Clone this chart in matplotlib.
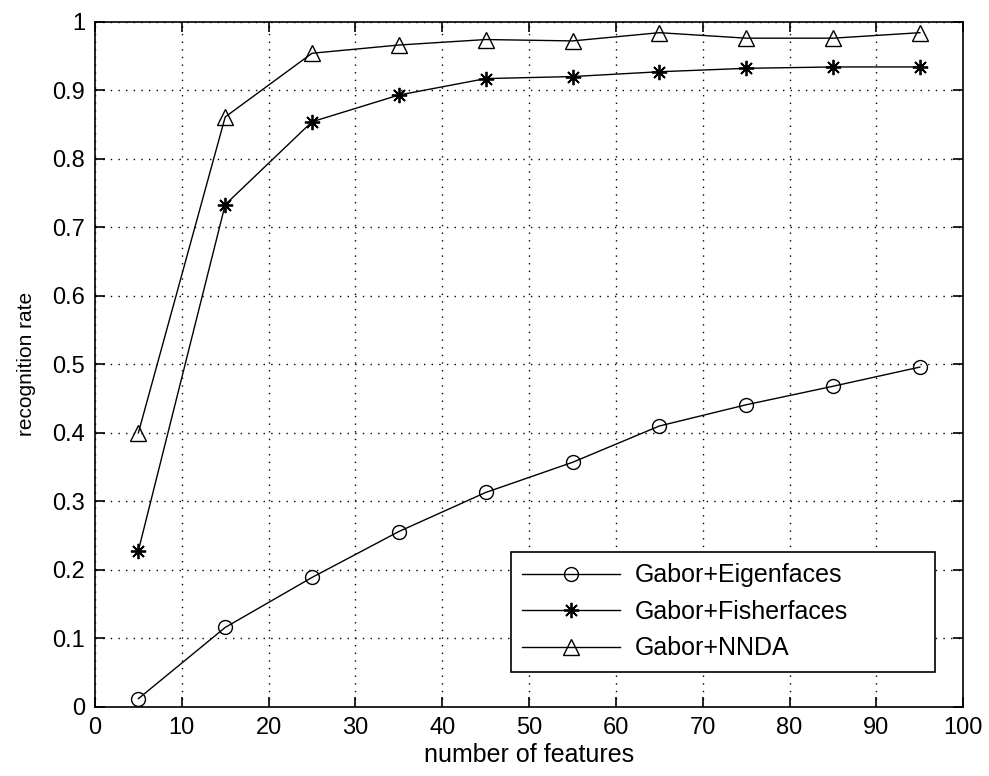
import matplotlib
matplotlib.use("Agg")
import matplotlib.pyplot as plt
from matplotlib.ticker import FormatStrFormatter

plt.rcParams['font.family'] = ['Liberation Sans', 'DejaVu Sans']

# number of features
features = [5, 15, 25, 35, 45, 55, 65, 75, 85, 95]
# recognition rate
eigen = [0.012, 0.116, 0.189, 0.256, 0.313, 0.357, 0.410, 0.441, 0.468, 0.496]
fisher = [0.228, 0.733, 0.854, 0.893, 0.917, 0.920, 0.927, 0.932, 0.934, 0.934]
nnda = [0.400, 0.861, 0.954, 0.966, 0.974, 0.972, 0.984, 0.976, 0.976, 0.984]

labels = ['Gabor+Eigenfaces', 'Gabor+Fisherfaces', 'Gabor+NNDA']
xticks = list(range(0, 101, 10))
yticks = [i / 10 for i in range(0, 11)]

fig = plt.figure(figsize=(9.89, 7.76), dpi=100)
ax = fig.add_axes([0.096, 0.089, 0.878, 0.883])

ax.plot(features, eigen, '-', color='k', lw=1, marker='o', ms=10,
        mfc='none', mec='k', mew=1, label=labels[0])
ax.plot(features, fisher, '-', color='k', lw=1, marker=(8, 2, 0), ms=11,
        mec='k', mew=1.3, label=labels[1])
ax.plot(features, nnda, '-', color='k', lw=1, marker='^', ms=11,
        mfc='none', mec='k', mew=1, label=labels[2])

ax.set_xlim(0, 100)
ax.set_ylim(0, 1)
ax.set_xticks(xticks)
ax.set_yticks(yticks)
ax.yaxis.set_major_formatter(FormatStrFormatter('%g'))
ax.tick_params(direction='in', top=True, right=True, length=7, width=1.2,
               labelsize=17, pad=7)
for s in ax.spines.values():
    s.set_linewidth(1.2)
ax.grid(True, color='k', linestyle=(0, (1, 4.5)), linewidth=1)

ax.set_xlabel('number of features', fontsize=18, labelpad=3)
ax.set_ylabel('recognition rate', fontsize=15, labelpad=12)

# MATLAB-style wide legend box, text left aligned with room on the right
leg = ax.legend(loc='lower left', bbox_to_anchor=(0.479, 0.0515, 0.488, 0.1755),
                mode='expand', borderaxespad=0, fontsize=18, fancybox=False,
                framealpha=1, edgecolor='k', handlelength=3.9, borderpad=0.45,
                labelspacing=0.5, handletextpad=0.6)
leg.get_frame().set_linewidth(1.2)

fig.savefig('out.png', dpi=100)
